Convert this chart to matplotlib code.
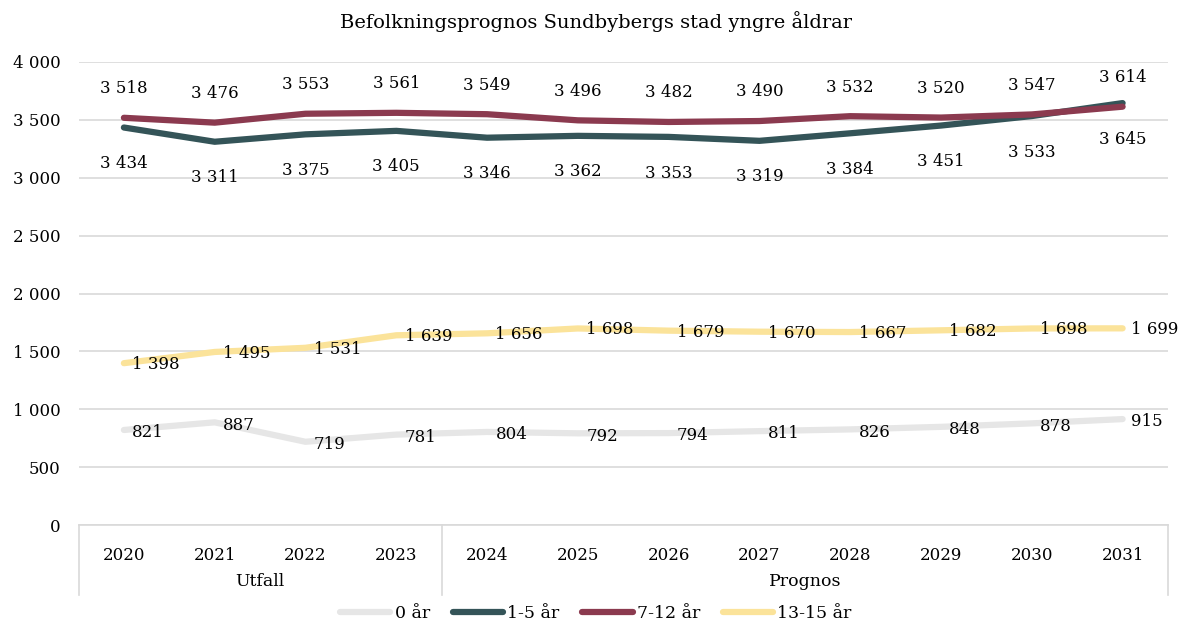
import matplotlib
matplotlib.use("Agg")
import matplotlib.pyplot as plt
from matplotlib.transforms import blended_transform_factory

years = ["2020", "2021", "2022", "2023", "2024", "2025", "2026", "2027", "2028", "2029", "2030", "2031"]
groups = ["Utfall", "Prognos"]
group_spans = [(0, 3), (4, 11)]
s0 = [821, 887, 719, 781, 804, 792, 794, 811, 826, 848, 878, 915]
s1_5 = [3434, 3311, 3375, 3405, 3346, 3362, 3353, 3319, 3384, 3451, 3533, 3645]
s7_12 = [3518, 3476, 3553, 3561, 3549, 3496, 3482, 3490, 3532, 3520, 3547, 3614]
s13_15 = [1398, 1495, 1531, 1639, 1656, 1698, 1679, 1670, 1667, 1682, 1698, 1699]
names = ["0 år", "1-5 år", "7-12 år", "13-15 år"]
colors = ["#e6e6e6", "#345458", "#8b3a4f", "#fbe39a"]
yticks = [0, 500, 1000, 1500, 2000, 2500, 3000, 3500, 4000]

plt.rcParams['font.family'] = ['DejaVu Serif']

def fmt(v):
    return f"{v:,}".replace(",", " ")

fig = plt.figure(figsize=(11.92, 6.25), dpi=100)
ax = fig.add_axes([78.5/1192, 100/625, (1168-78.5)/1192, 463/625])

x = list(range(len(years)))
series = [s0, s1_5, s7_12, s13_15]
for vals, name, c in zip(series, names, colors):
    ax.plot(x, vals, color=c, lw=4.5, solid_capstyle='round', label=name, zorder=3)

fs = 12
for i, v in enumerate(s0):
    ax.annotate(fmt(v), (i, v), xytext=(6, -2), textcoords='offset points', ha='left', va='center', fontsize=fs)
for i, v in enumerate(s13_15):
    ax.annotate(fmt(v), (i, v), xytext=(6, -1), textcoords='offset points', ha='left', va='center', fontsize=fs)
for i, v in enumerate(s1_5):
    ax.annotate(fmt(v), (i, v), xytext=(0, -26), textcoords='offset points', ha='center', va='center', fontsize=fs)
for i, v in enumerate(s7_12):
    ax.annotate(fmt(v), (i, v), xytext=(0, 21), textcoords='offset points', ha='center', va='center', fontsize=fs)

ax.set_xlim(-0.5, len(years) - 0.5)
ax.set_ylim(0, 4000)
ax.set_yticks(yticks)
ax.set_yticklabels([fmt(t) for t in yticks], fontsize=fs)
ax.yaxis.grid(True, color="#d9d9d9", lw=1.2)
ax.set_axisbelow(True)
ax.tick_params(axis='y', length=0, pad=13)
ax.set_xticks(x)
ax.set_xticklabels(years, fontsize=fs)
ax.tick_params(axis='x', length=0, pad=16)
for sp in ['top', 'right', 'left']:
    ax.spines[sp].set_visible(False)
ax.spines['bottom'].set_color("#d9d9d9")
ax.spines['bottom'].set_linewidth(1.2)

tr = blended_transform_factory(ax.transData, ax.transAxes)
bounds = [-0.5, 3.5, 11.5]
for b in bounds:
    ax.plot([b, b], [0, -0.151], transform=tr, color="#d9d9d9", lw=1.2, clip_on=False)
for g, (a, bnd) in zip(groups, group_spans):
    ax.text((a + bnd) / 2, -0.121, g, transform=tr, ha='center', va='center', fontsize=12.5)

fig.suptitle("Befolkningsprognos Sundbybergs stad yngre åldrar", fontsize=14, y=1 - 22/625, va='center')

fig.legend(loc='center', bbox_to_anchor=(0.5, 1 - 614/625), ncol=4, frameon=False,
           fontsize=12.5, handlelength=2.9, handletextpad=0.25, columnspacing=1.3)

fig.savefig("out.png", dpi=100)
